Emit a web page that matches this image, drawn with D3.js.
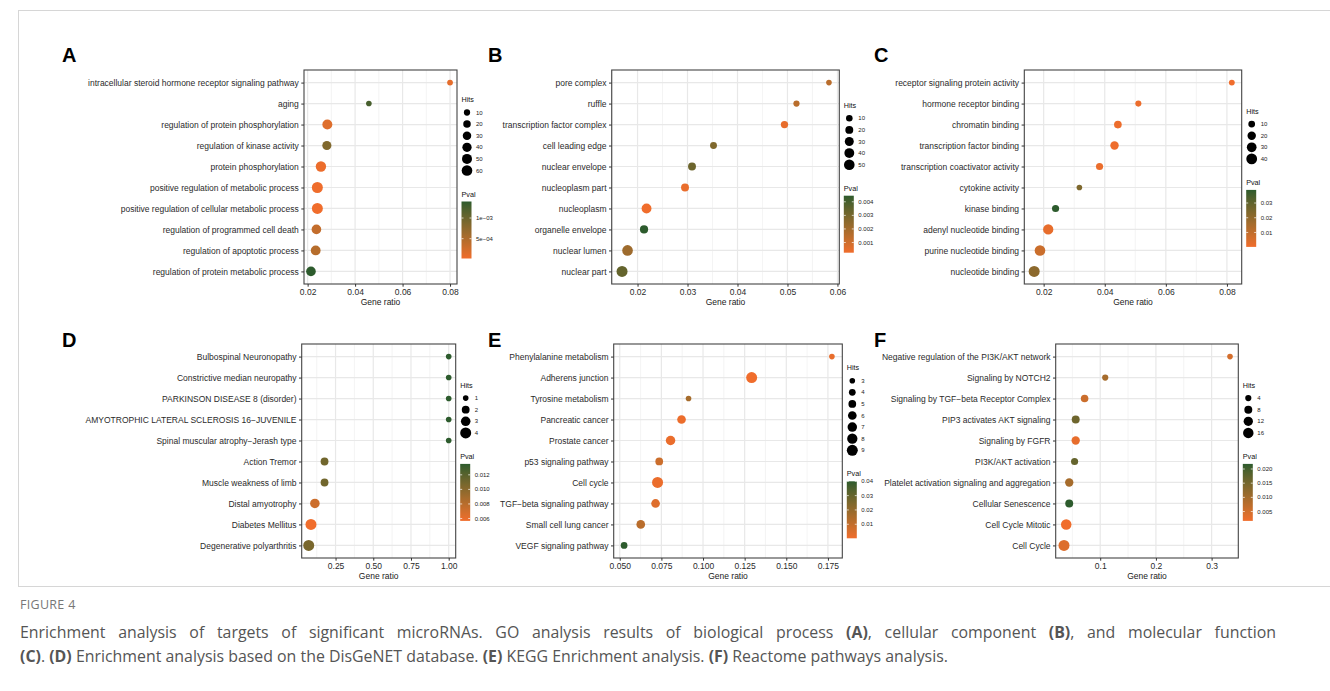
<!DOCTYPE html>
<html>
<head>
<meta charset="utf-8">
<style>
  body { margin: 0; background: #fff; }
  svg text { font-family: "Liberation Sans", Arial, sans-serif; }
  .cap { font-family: "Open Sans", sans-serif; }
</style>
</head>
<body>
<svg width="1330" height="691"></svg>
<script src="https://cdn.jsdelivr.net/npm/d3@7/dist/d3.min.js"></script>
<script>

// ---- data ----
var termsA = ["intracellular steroid hormone receptor signaling pathway", "aging",
  "regulation of protein phosphorylation", "regulation of kinase activity", "protein phosphorylation",
  "positive regulation of metabolic process", "positive regulation of cellular metabolic process",
  "regulation of programmed cell death", "regulation of apoptotic process", "regulation of protein metabolic process"];
var ratioA = [0.0800, 0.0458, 0.0283, 0.0281, 0.0256, 0.0241, 0.0241, 0.0237, 0.0234, 0.0214];
var hitsA = [7, 6, 50, 38, 56, 66, 65, 45, 47, 45];
var pvalA = [0.0001, 0.00125, 0.00015, 0.00085, 0.00005, 0.00003, 0.00002, 0.00035, 0.00045, 0.0014];
var hitsKeysA = [10, 20, 30, 40, 50, 60];
var pvalTicksA = [0.001, 0.0005], pvalLabelsA = ["1e\u221203", "5e\u221204"];
var xTicksA = [0.02, 0.04, 0.06, 0.08];

var termsB = ["pore complex", "ruffle", "transcription factor complex", "cell leading edge", "nuclear envelope",
  "nucleoplasm part", "nucleoplasm", "organelle envelope", "nuclear lumen", "nuclear part"];
var ratioB = [0.0583, 0.0518, 0.0494, 0.0352, 0.0309, 0.0295, 0.0218, 0.0213, 0.0180, 0.0169];
var hitsB = [5, 8, 15, 12, 20, 20, 40, 22, 50, 55];
var pvalB = [0.0015, 0.0015, 0.00045, 0.0028, 0.0032, 0.0004, 0.00025, 0.00445, 0.0021, 0.0034];
var hitsKeysB = [10, 20, 30, 40, 50];
var pvalTicksB = [0.004, 0.003, 0.002, 0.001], pvalLabelsB = ["0.004", "0.003", "0.002", "0.001"];
var xTicksB = [0.02, 0.03, 0.04, 0.05, 0.06];

var termsC = ["receptor signaling protein activity", "hormone receptor binding", "chromatin binding",
  "transcription factor binding", "transcription coactivator activity", "cytokine activity", "kinase binding",
  "adenyl nucleotide binding", "purine nucleotide binding", "nucleotide binding"];
var ratioC = [0.0816, 0.0510, 0.0443, 0.0432, 0.0383, 0.0317, 0.0239, 0.0215, 0.0188, 0.0169];
var hitsC = [6, 7, 15, 20, 12, 5, 12, 35, 38, 42];
var pvalC = [0.0002, 0.001, 0.0008, 0.0006, 0.0012, 0.024, 0.0389, 0.002, 0.008, 0.021];
var hitsKeysC = [10, 20, 30, 40];
var pvalTicksC = [0.03, 0.02, 0.01], pvalLabelsC = ["0.03", "0.02", "0.01"];
var xTicksC = [0.02, 0.04, 0.06, 0.08];

var termsD = ["Bulbospinal Neuronopathy", "Constrictive median neuropathy", "PARKINSON DISEASE 8 (disorder)",
  "AMYOTROPHIC LATERAL SCLEROSIS 16\u2212JUVENILE", "Spinal muscular atrophy\u2212Jerash type", "Action Tremor",
  "Muscle weakness of limb", "Distal amyotrophy", "Diabetes Mellitus", "Degenerative polyarthritis"];
var ratioD = [1, 1, 1, 1, 1, 0.177, 0.177, 0.113, 0.087, 0.072];
var hitsD = [1, 1, 1, 1, 1, 2, 2, 3, 4, 4];
var pvalD = [0.0135, 0.0135, 0.0135, 0.0135, 0.0135, 0.011, 0.011, 0.0072, 0.00567, 0.0107];
var hitsKeysD = [1, 2, 3, 4];
var pvalTicksD = [0.012, 0.010, 0.008, 0.006], pvalLabelsD = ["0.012", "0.010", "0.008", "0.006"];
var xTicksD = [0.25, 0.50, 0.75, 1.00];

var termsE = ["Phenylalanine metabolism", "Adherens junction", "Tyrosine metabolism", "Pancreatic cancer",
  "Prostate cancer", "p53 signaling pathway", "Cell cycle", "TGF\u2212beta signaling pathway",
  "Small cell lung cancer", "VEGF signaling pathway"];
var ratioE = [0.1774, 0.1292, 0.0913, 0.0871, 0.0805, 0.0737, 0.0727, 0.0715, 0.0626, 0.0526];
var hitsE = [3, 9, 3, 6, 7, 5, 9, 6, 6, 4];
var pvalE = [0.002, 0.0002, 0.016, 0.001, 0.0015, 0.008, 0.0012, 0.004, 0.012, 0.040];
var hitsKeysE = [3, 4, 5, 6, 7, 8, 9];
var pvalTicksE = [0.04, 0.03, 0.02, 0.01], pvalLabelsE = ["0.04", "0.03", "0.02", "0.01"];
var xTicksE = [0.050, 0.075, 0.100, 0.125, 0.150, 0.175];

var termsF = ["Negative regulation of the PI3K/AKT network", "Signaling by NOTCH2",
  "Signaling by TGF\u2212beta Receptor Complex", "PIP3 activates AKT signaling", "Signaling by FGFR",
  "PI3K/AKT activation", "Platelet activation signaling and aggregation", "Cellular Senescence",
  "Cell Cycle Mitotic", "Cell Cycle"];
var ratioF = [0.333, 0.109, 0.072, 0.056, 0.056, 0.054, 0.0444, 0.0444, 0.039, 0.035];
var hitsF = [3, 4, 7, 8, 9, 6, 9, 8, 16, 18];
var pvalF = [0.0047, 0.0097, 0.0057, 0.0157, 0.0027, 0.0167, 0.0097, 0.0218, 0.0017, 0.0037];
var hitsKeysF = [4, 8, 12, 16];
var pvalTicksF = [0.020, 0.015, 0.010, 0.005], pvalLabelsF = ["0.020", "0.015", "0.010", "0.005"];
var xTicksF = [0.1, 0.2, 0.3];

// ---- layout ----
var LOW = "#f06d2c", HIGH = "#2d5b2d";
var svg = d3.select("svg");

var panels = [
  {id: "A", terms: termsA, ratio: ratioA, hits: hitsA, pval: pvalA, keys: hitsKeysA, pt: pvalTicksA, pl: pvalLabelsA, xt: xTicksA, fmt: ".2f",
   box: {l: 304, r: 457, t: 70, b: 284}, lab: [62, 62]},
  {id: "B", terms: termsB, ratio: ratioB, hits: hitsB, pval: pvalB, keys: hitsKeysB, pt: pvalTicksB, pl: pvalLabelsB, xt: xTicksB, fmt: ".2f",
   box: {l: 611.7, r: 839.3, t: 70, b: 284}, lab: [488, 62]},
  {id: "C", terms: termsC, ratio: ratioC, hits: hitsC, pval: pvalC, keys: hitsKeysC, pt: pvalTicksC, pl: pvalLabelsC, xt: xTicksC, fmt: ".2f",
   box: {l: 1024.3, r: 1241.7, t: 70, b: 284}, lab: [874, 62]},
  {id: "D", terms: termsD, ratio: ratioD, hits: hitsD, pval: pvalD, keys: hitsKeysD, pt: pvalTicksD, pl: pvalLabelsD, xt: xTicksD, fmt: ".2f",
   box: {l: 301.7, r: 455.7, t: 344, b: 558}, lab: [62, 347]},
  {id: "E", terms: termsE, ratio: ratioE, hits: hitsE, pval: pvalE, keys: hitsKeysE, pt: pvalTicksE, pl: pvalLabelsE, xt: xTicksE, fmt: ".3f",
   box: {l: 613.7, r: 842.3, t: 344, b: 558}, lab: [488, 347]},
  {id: "F", terms: termsF, ratio: ratioF, hits: hitsF, pval: pvalF, keys: hitsKeysF, pt: pvalTicksF, pl: pvalLabelsF, xt: xTicksF, fmt: ".1f",
   box: {l: 1055.7, r: 1238.3, t: 344, b: 558}, lab: [874, 347]}
];

// figure frame
svg.append("rect").attr("x", 18.5).attr("y", 10.5).attr("width", 1330).attr("height", 576)
  .attr("fill", "none").attr("stroke", "#d6d6d6");

function expand(ext) {
  var d = (ext[1] - ext[0]) * 0.05;
  return [ext[0] - d, ext[1] + d];
}

function minorBreaks(major, dom) {
  var step = major[1] - major[0];
  var b = [major[0] - step].concat(major, [major[major.length - 1] + step]);
  var out = [];
  for (var i = 0; i < b.length - 1; i++) {
    var m = (b[i] + b[i + 1]) / 2;
    if (m > dom[0] && m < dom[1]) out.push(m);
  }
  return out;
}

var defs = svg.append("defs");

panels.forEach(function(p) {
  var box = p.box;
  var g = svg.append("g");
  var x = d3.scaleLinear().domain(expand(d3.extent(p.ratio))).range([box.l, box.r]);
  var y = d3.scalePoint().domain(p.terms).range([box.t, box.b]).padding(0.6);
  var size = d3.scaleSqrt().domain(d3.extent(p.hits)).range([2.8, 5.5]);
  var pExt = d3.extent(p.pval);
  var color = d3.scaleLinear().domain(pExt).range([LOW, HIGH]).interpolate(d3.interpolateLab);

  var rows = p.terms.map(function(t, i) {
    return {term: t, ratio: p.ratio[i], hits: p.hits[i], pval: p.pval[i]};
  });

  // grid
  g.selectAll(".minor").data(minorBreaks(p.xt, x.domain())).enter().append("line")
    .attr("x1", x).attr("x2", x).attr("y1", box.t).attr("y2", box.b)
    .attr("stroke", "#ececec").attr("stroke-width", 0.6);
  g.selectAll(".major").data(p.xt).enter().append("line")
    .attr("x1", x).attr("x2", x).attr("y1", box.t).attr("y2", box.b)
    .attr("stroke", "#e8e8e8").attr("stroke-width", 1.2);
  g.selectAll(".hgrid").data(p.terms).enter().append("line")
    .attr("x1", box.l).attr("x2", box.r).attr("y1", y).attr("y2", y)
    .attr("stroke", "#e8e8e8").attr("stroke-width", 1.2);

  // points
  g.selectAll("circle.pt").data(rows).enter().append("circle")
    .attr("cx", function(d) { return x(d.ratio); })
    .attr("cy", function(d) { return y(d.term); })
    .attr("r", function(d) { return size(d.hits); })
    .attr("fill", function(d) { return color(d.pval); });

  // border
  g.append("rect").attr("x", box.l).attr("y", box.t)
    .attr("width", box.r - box.l).attr("height", box.b - box.t)
    .attr("fill", "none").attr("stroke", "#444").attr("stroke-width", 1.1);

  // axes
  var ay = g.append("g").attr("transform", "translate(" + box.l + ",0)")
    .call(d3.axisLeft(y).tickSize(2.7).tickPadding(2.5));
  var ax = g.append("g").attr("transform", "translate(0," + box.b + ")")
    .call(d3.axisBottom(x).tickValues(p.xt).tickFormat(d3.format(p.fmt)).tickSize(2.7).tickPadding(2));
  [ax, ay].forEach(function(a) {
    a.select(".domain").remove();
    a.selectAll("line").attr("stroke", "#333");
    a.selectAll("text").attr("font-size", 8.5).attr("fill", "#2a2a2a")
      .attr("font-family", "Liberation Sans, Arial, sans-serif");
  });

  g.append("text").attr("x", (box.l + box.r) / 2).attr("y", box.b + 20.5)
    .attr("text-anchor", "middle").attr("font-size", 8.5).attr("fill", "#1a1a1a")
    .text("Gene ratio");

  // panel tag
  svg.append("text").attr("x", p.lab[0]).attr("y", p.lab[1])
    .attr("font-size", 20).attr("font-weight", "bold").attr("fill", "#000").text(p.id);

  // legends
  var lx = box.r + 4.5;
  var n = p.keys.length;
  var groupH = 105 + (n - 1) * 11.6;
  var top = (box.t + box.b) / 2 - groupH / 2;
  var lg = g.append("g");
  lg.append("text").attr("x", lx).attr("y", top + 6.5).attr("font-size", 7.2).attr("fill", "#111").text("Hits");
  var keyY = function(i) { return top + 17 + i * 11.6; };
  lg.selectAll("circle.key").data(p.keys).enter().append("circle")
    .attr("cx", lx + 5.5).attr("cy", function(d, i) { return keyY(i); })
    .attr("r", size).attr("fill", "#000");
  lg.selectAll("text.key").data(p.keys).enter().append("text")
    .attr("x", lx + 14.5).attr("y", function(d, i) { return keyY(i); }).attr("dy", "0.35em")
    .attr("font-size", 6).attr("fill", "#222").text(function(d) { return d; });

  var pTitle = keyY(n - 1) + 23.5;
  lg.append("text").attr("x", lx).attr("y", pTitle + 2.5).attr("font-size", 7.2).attr("fill", "#111").text("Pval");
  var barTop = pTitle + 7.5, barH = 57, barW = 10;
  var gid = "grad" + p.id;
  var grad = defs.append("linearGradient").attr("id", gid)
    .attr("x1", 0).attr("y1", 1).attr("x2", 0).attr("y2", 0);
  d3.range(0, 1.0001, 0.05).forEach(function(t) {
    grad.append("stop").attr("offset", t).attr("stop-color", color(pExt[0] + t * (pExt[1] - pExt[0])));
  });
  lg.append("rect").attr("x", lx).attr("y", barTop).attr("width", barW).attr("height", barH)
    .attr("fill", "url(#" + gid + ")");
  var bs = d3.scaleLinear().domain(pExt).range([barTop + barH, barTop]);
  p.pt.forEach(function(t, i) {
    var yy = bs(t);
    lg.append("line").attr("x1", lx).attr("x2", lx + 2).attr("y1", yy).attr("y2", yy)
      .attr("stroke", "#fff").attr("stroke-width", 0.7);
    lg.append("line").attr("x1", lx + barW - 2).attr("x2", lx + barW).attr("y1", yy).attr("y2", yy)
      .attr("stroke", "#fff").attr("stroke-width", 0.7);
    lg.append("text").attr("x", lx + 14.5).attr("y", yy).attr("dy", "0.35em")
      .attr("font-size", 6).attr("fill", "#222").text(p.pl[i]);
  });
});

// caption (first line justified to the full width)
svg.append("text").attr("class", "cap").attr("x", 20).attr("y", 609)
  .attr("font-size", 12.5).attr("fill", "#777").attr("letter-spacing", 0.3).text("FIGURE 4");

var capLines = [
  [["Enrichment analysis of targets of significant microRNAs. GO analysis results of biological process ", 0], ["(A)", 1],
   [", cellular component ", 0], ["(B)", 1], [", and molecular function", 0]],
  [["(C)", 1], [". ", 0], ["(D)", 1], [" Enrichment analysis based on the DisGeNET database. ", 0], ["(E)", 1],
   [" KEGG Enrichment analysis. ", 0], ["(F)", 1], [" Reactome pathways analysis.", 0]]
];
var capWidth = 1256;
capLines.forEach(function(line, li) {
  var t = svg.append("text").attr("class", "cap").attr("x", 20).attr("y", 638 + li * 24)
    .attr("font-size", 15.9).attr("fill", "#555");
  line.forEach(function(seg) {
    t.append("tspan").attr("font-weight", seg[1] ? "bold" : "normal").text(seg[0]);
  });
  if (li === 0) {
    var natural = t.node().getComputedTextLength();
    var spaces = line.map(function(s) { return s[0]; }).join("").split(" ").length - 1;
    t.attr("word-spacing", (capWidth - natural) / spaces);
  }
});

</script>
</body>
</html>
